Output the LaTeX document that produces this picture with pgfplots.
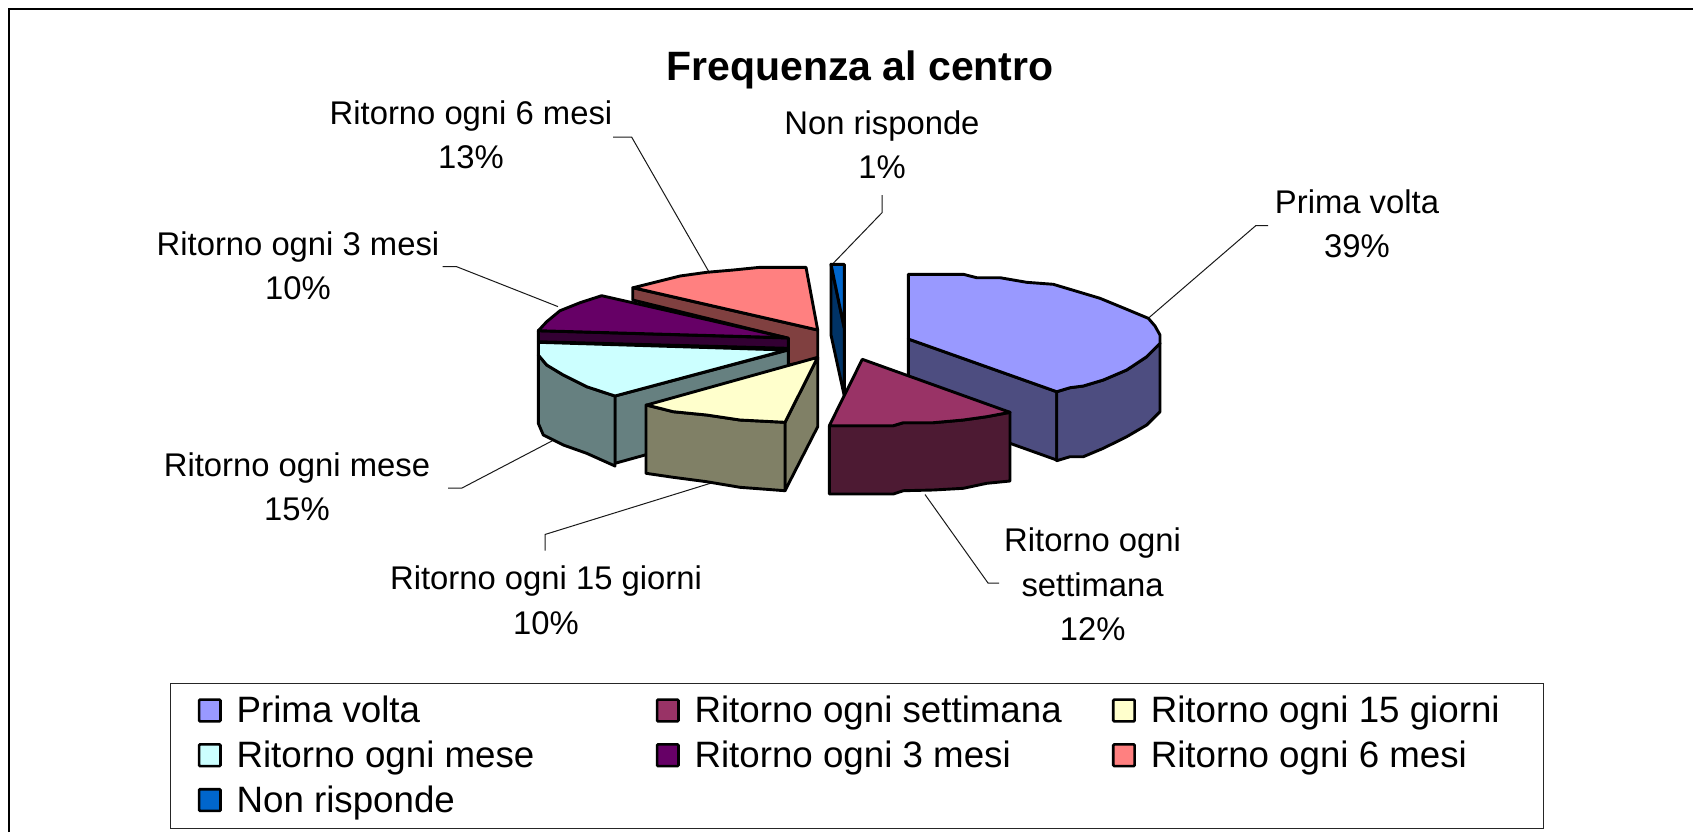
\documentclass[border=0pt]{standalone}
\usepackage{fontspec}
\setmainfont{Liberation Sans}
\usepackage{pgfplots}
\pgfplotsset{compat=1.18}
\definecolor{cA}{HTML}{9999FF}\definecolor{sA}{HTML}{4D4D80}
\definecolor{cB}{HTML}{993366}\definecolor{sB}{HTML}{4D1A33}
\definecolor{cC}{HTML}{FFFFCC}\definecolor{sC}{HTML}{808066}
\definecolor{cD}{HTML}{CCFFFF}\definecolor{sD}{HTML}{668080}
\definecolor{cE}{HTML}{660066}\definecolor{sE}{HTML}{330033}
\definecolor{cF}{HTML}{FF8080}\definecolor{sF}{HTML}{804040}
\definecolor{cG}{HTML}{0066CC}\definecolor{sG}{HTML}{003366}
\newcommand{\lw}[2]{\makebox[#1pt][l]{#2}}
\tikzset{
  lab/.style={font=\fontsize{16.4}{20}\selectfont, inner sep=0pt, anchor=center, text height=11.7pt, text depth=0pt},
}
\pgfplotsset{
  pie/.style={draw=black, line width=1.45pt, line join=round, forget plot},
  lead/.style={draw=black!90, line width=0.5pt, forget plot},
}
\begin{document}
\begin{tikzpicture}
\begin{axis}[
  scale only axis, width=846.5pt, height=416pt,
  xmin=0, xmax=1693, ymin=0, ymax=832, y dir=reverse,
  hide axis,
  legend columns=3,
  legend style={at={(axis cs:170.4,683.3)}, anchor=north west,
    draw=none, fill=none, inner xsep=13.5pt, inner ysep=2.65pt,
    font=\fontsize{18.35}{22}\selectfont,
    nodes={inner sep=0pt, anchor=base west, text height=16.7pt, text depth=5.7pt},
    /tikz/every odd column/.append style={column sep=7.4pt},
    /tikz/every even column/.append style={column sep=0pt}},
  legend cell align=left,
  legend image code/.code={\draw[#1,line width=1.3pt,rounded corners=0.5pt] (0.65pt,0.55pt) rectangle (11.35pt,11.4pt);},
]
% page extent
\path (axis cs:0,0) rectangle (axis cs:1693,832);
% legend entries
\addlegendimage{fill=cA,draw=black}\addlegendentry{\lw{209.6}{Prima volta}}
\addlegendimage{fill=cB,draw=black}\addlegendentry{\lw{208.7}{Ritorno ogni settimana}}
\addlegendimage{fill=cC,draw=black}\addlegendentry{\lw{181}{Ritorno ogni 15 giorni}}
\addlegendimage{fill=cD,draw=black}\addlegendentry{\lw{209.6}{Ritorno ogni mese}}
\addlegendimage{fill=cE,draw=black}\addlegendentry{\lw{208.7}{Ritorno ogni 3 mesi}}
\addlegendimage{fill=cF,draw=black}\addlegendentry{\lw{181}{Ritorno ogni 6 mesi}}
\addlegendimage{fill=cG,draw=black}\addlegendentry{\lw{209.6}{Non risponde}}

% frame
\addplot[draw=black, line width=1pt, forget plot] coordinates {(9.3,832) (9.3,9.3) (1693,9.3)};
% legend box
\addplot[draw=black!85, line width=0.5pt, forget plot] coordinates {(170.4,683.3) (1543,683.3) (1543,828.3) (170.4,828.3)} -- cycle;

% leader lines
\addplot[lead] coordinates {(1148,318.5) (1255.7,225.7) (1268,225.7)};
\addplot[lead] coordinates {(833.5,263) (882,212.7) (882,195)};
\addplot[lead] coordinates {(709,272) (631.6,137) (613,137)};
\addplot[lead] coordinates {(558,306.6) (456.7,266.7) (442.7,266.7)};
\addplot[lead] coordinates {(552.8,440.5) (462,488) (448,488)};
\addplot[lead] coordinates {(712.6,482.6) (545.2,534.4) (545.2,550.6)};
\addplot[lead] coordinates {(925,494.5) (988,583) (999,583)};

% Ritorno ogni 6 mesi (13%)
\addplot[pie, fill=sF] coordinates {(632.7,287.7) (817.7,330) (817.7,360) (788.3,365) (788.3,338.3) (632.7,300)} -- cycle;
\addplot[pie, fill=cF] coordinates {(633.3,287.7) (653.3,282.7) (680,276) (706.7,272.3) (733.3,270) (760,267.3) (806,267.3) (817.7,330)} -- cycle;
% Ritorno ogni 3 mesi (10%)
\addplot[pie, fill=sE] coordinates {(538.3,330.7) (788.3,338) (788.3,348.3) (538.3,341.7)} -- cycle;
\addplot[pie, fill=cE] coordinates {(538.3,330.7) (546.7,321.7) (560,310.7) (580,302.7) (601.7,295.7) (786.7,337.7)} -- cycle;
% Ritorno ogni mese (15%)
\addplot[pie, fill=sD] coordinates {(615,396) (788.3,350) (788.3,400) (645,455) (615,463.3)} -- cycle;
\addplot[pie, fill=sD] coordinates {(538.3,355) (546.7,365) (563.3,375) (586.7,386.7) (615,396) (615,466) (586.7,453.3) (563.3,445) (543.3,435) (538.3,423.3)} -- cycle;
\addplot[pie, fill=cD] coordinates {(538.3,342.3) (538.3,355) (546.7,365) (563.3,375) (586.7,386.7) (615,396) (786.7,350)} -- cycle;
% Ritorno ogni 15 giorni (10%)
\addplot[pie, fill=sC] coordinates {(785,422.3) (817.7,357.3) (817.7,426.7) (785,490.7)} -- cycle;
\addplot[pie, fill=sC] coordinates {(646,405) (673.3,411.7) (706.7,415) (740,420) (785,422.3) (785,490.7) (740,487.3) (706.7,481.7) (673.3,477.3) (646,473.3)} -- cycle;
\addplot[pie, fill=cC] coordinates {(646.7,405) (673.3,411.7) (706.7,415) (740,420) (785,422.3) (817.7,357.3)} -- cycle;
% Non risponde (1%)
\addplot[pie, fill=sG] coordinates {(831,264.3) (844.3,328.3) (844.3,396) (831,335)} -- cycle;
\addplot[pie, fill=cG] coordinates {(831,264.3) (844.3,264.3) (844.3,328.3)} -- cycle;
% Prima volta (39%)
\addplot[pie, fill=sA] coordinates {(908.3,339) (1056.7,391.7) (1056.7,460) (1010,443.3) (908.3,405)} -- cycle;
\addplot[pie, fill=sA] coordinates {(1056.7,391.7) (1070,387.7) (1083.3,386) (1103.3,380) (1126.7,370) (1146.7,356.7) (1160,343.3) (1160,411.7) (1146.7,425) (1126.7,436.7) (1103.3,448.3) (1083.3,456.7) (1070,456.7) (1056.7,460.7)} -- cycle;
\addplot[pie, fill=cA] coordinates {(908.3,274.3) (963.3,274.3) (976.7,277.7) (1000,277.7) (1026.7,282.3) (1053.3,284.3) (1080,292.3) (1100,298.3) (1126.7,309.3) (1148.3,318.3) (1155,326) (1160,335) (1160,343.3) (1146.7,356.7) (1126.7,370) (1103.3,380) (1083.3,386) (1070,387.7) (1056.7,391.7) (908.3,339)} -- cycle;
% Ritorno ogni settimana (12%)
\addplot[pie, fill=sB] coordinates {(829.3,425.7) (893.3,425.7) (903.3,422.7) (933.3,422.7) (963.3,420) (986.7,416.7) (1010,412.3) (1010,481) (986.7,483.3) (963.3,488.3) (933.3,490) (903.3,490.7) (893.3,494) (829.3,494)} -- cycle;
\addplot[pie, fill=cB] coordinates {(862.3,359.3) (1010,412.3) (986.7,416.7) (963.3,420) (933.3,422.7) (903.3,422.7) (893.3,425.7) (829.3,425.7)} -- cycle;

% title
\node[font=\fontsize{20.5}{24}\selectfont\bfseries, inner sep=0pt, text height=14.7pt, text depth=0pt] at (axis cs:860,66) {Frequenza al centro};
% data labels
\node[lab] at (axis cs:1357,201.5) {Prima volta};
\node[lab] at (axis cs:1357,246) {39\%};
\node[lab] at (axis cs:882,122.5) {Non risponde};
\node[lab] at (axis cs:882,167) {1\%};
\node[lab] at (axis cs:471,112.7) {Ritorno ogni 6 mesi};
\node[lab] at (axis cs:471,157) {13\%};
\node[lab] at (axis cs:298,243.5) {Ritorno ogni 3 mesi};
\node[lab] at (axis cs:298,288) {10\%};
\node[lab] at (axis cs:297,465) {Ritorno ogni mese};
\node[lab] at (axis cs:297,509) {15\%};
\node[lab] at (axis cs:546,578.2) {Ritorno ogni 15 giorni};
\node[lab] at (axis cs:546,622.5) {10\%};
\node[lab] at (axis cs:1092.6,540) {Ritorno ogni};
\node[lab] at (axis cs:1092.6,584.7) {settimana};
\node[lab] at (axis cs:1092.6,629) {12\%};
\end{axis}
\end{tikzpicture}
\end{document}
